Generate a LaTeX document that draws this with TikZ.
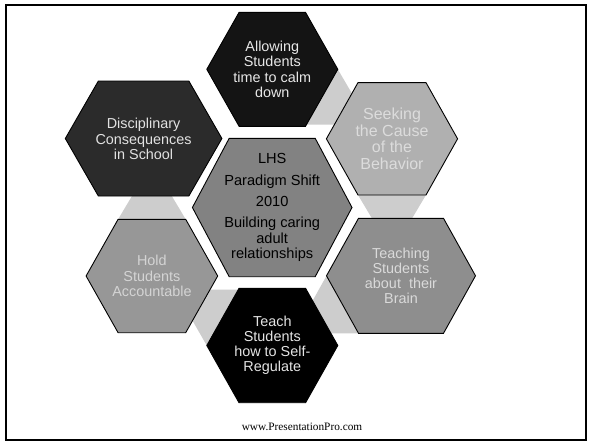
\documentclass[tikz,border=0pt]{standalone}
\usepackage{fontspec}
\setmainfont{Liberation Sans}
\newfontfamily\footfont{Liberation Serif}
\definecolor{fillA}{HTML}{141414}
\definecolor{fillD}{HTML}{2B2B2B}
\definecolor{fillS}{HTML}{B0B0B0}
\definecolor{fillC}{HTML}{828282}
\definecolor{fillH}{HTML}{979797}
\definecolor{fillTg}{HTML}{8E8E8E}
\definecolor{fillTc}{HTML}{000000}
\definecolor{bandgray}{HTML}{CDCDCD}
\definecolor{txtA}{HTML}{E8E8E8}
\definecolor{txtD}{HTML}{E2E2E2}
\definecolor{txtS}{HTML}{DCDCDC}
\definecolor{txtH}{HTML}{D4D4D4}
\definecolor{txtTg}{HTML}{DADADA}
\definecolor{txtTc}{HTML}{E4E4E4}
\newcommand\myhex[6]{\filldraw[hexline,fill=#6] (#1-#3,#2) -- (#1-#5,#2-#4) -- (#1+#5,#2-#4) -- (#1+#3,#2) -- (#1+#5,#2+#4) -- (#1-#5,#2+#4) -- cycle;}
\begin{document}
\begin{tikzpicture}[x=1pt,y=-1pt,
  hexline/.style={draw=black,line width=0.9pt,line join=miter},
  band/.style={fill=bandgray},
  lbl/.style={align=center,font=\fontsize{14.4}{15.3}\selectfont,inner sep=0pt},
  lblbig/.style={align=center,font=\fontsize{16}{16.7}\selectfont,inner sep=0pt},
  frame/.style={draw=black,line width=2pt}]
\useasboundingbox (0,0) rectangle (592,445);
\draw[frame] (6,5) rectangle (586,440);
% connector bands
\fill[band] (337.8,69.3) -- (305.5,124.5) -- (370.1,124.5) -- cycle;
\fill[band] (358,195) -- (426,195) -- (392,252) -- cycle;
\fill[band] (326.5,275.8) -- (358.5,333.3) -- (294.5,333.3) -- cycle;
\fill[band] (206.8,345.5) -- (239,289.5) -- (174.6,289.5) -- cycle;
\fill[band] (118.1,219.3) -- (185.7,219.3) -- (151.9,162.6) -- cycle;
% hexagons
\myhex{272.3}{69.3}{65.5}{57}{33.2}{fillA}
\myhex{143.6}{138.5}{78.3}{57.5}{45.25}{fillD}
\myhex{392}{138.8}{65.6}{56.2}{34}{fillS}
\myhex{272.2}{207.5}{79.8}{69.2}{43}{fillC}
\myhex{151.9}{276}{65.8}{56.7}{33.8}{fillH}
\myhex{401}{275.8}{74.5}{57.5}{42.5}{fillTg}
\myhex{272.3}{345.5}{65.5}{57.2}{33.3}{fillTc}
% labels
\node[lbl,text=txtA] (allow) at (272.3,69.3) {Allowing\\Students\\time to calm\\down};
\node[lbl,text=txtD] (disc) at (143.6,139) {Disciplinary\\Consequences\\in School};
\node[lblbig,text=txtS] (seek) at (392,138.8) {Seeking\\the Cause\\of the\\Behavior};
\node[lbl,text=black,font=\fontsize{14.6}{15.3}\selectfont] (center) at (272.2,207.5) {LHS\\[6pt]Paradigm Shift\\[6pt]2010\\[6pt]Building caring\\adult\\relationships};
\node[lbl,text=txtH] (hold) at (151.9,276) {Hold\\Students\\Accountable};
\node[lbl,text=txtTg] (teaching) at (401,275.8) {Teaching\\Students\\about\ \ their\\Brain};
\node[lbl,text=txtTc] (teach) at (272.3,345.3) {Teach\\Students\\how to Self-\\Regulate};
\node[font=\footfont\fontsize{11.3}{13}\selectfont,inner sep=0pt] (foot) at (302,427.3) {www.PresentationPro.com};
\end{tikzpicture}
\end{document}
